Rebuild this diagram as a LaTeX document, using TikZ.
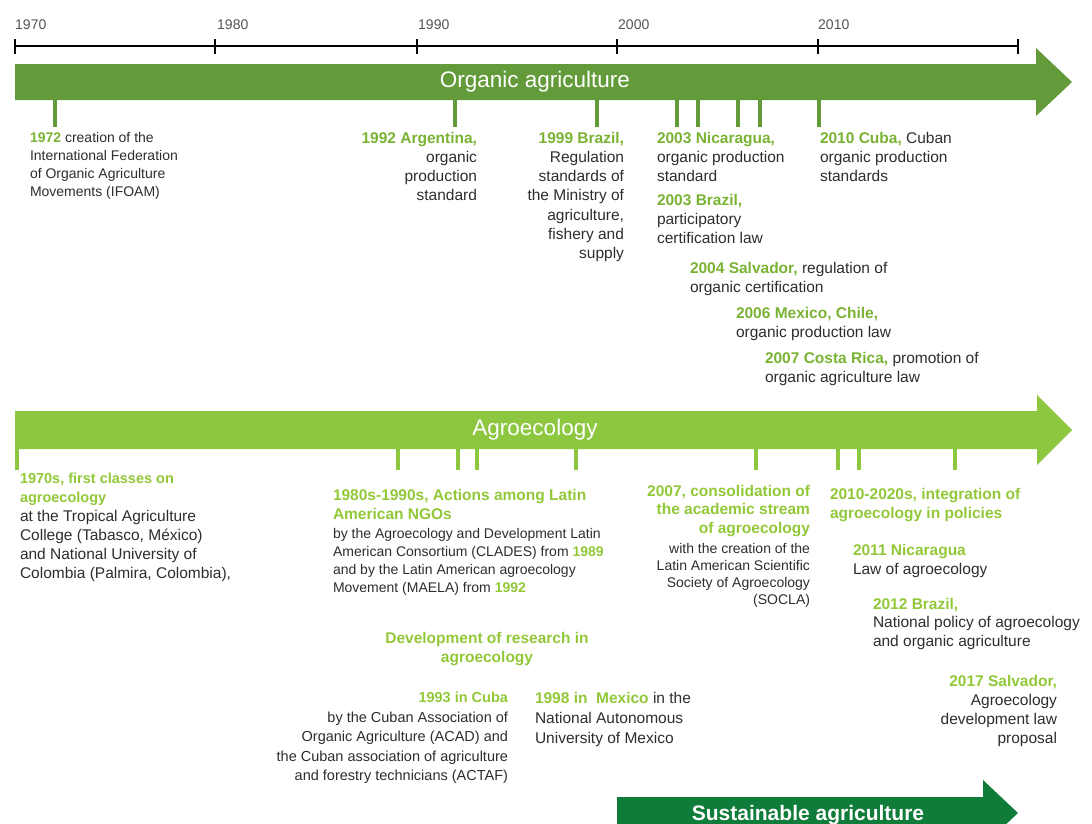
\documentclass[tikz,border=0pt]{standalone}
\usepackage{fontspec}
\setmainfont{Liberation Sans}
\definecolor{orgarrow}{RGB}{99,155,58}
\definecolor{agroarrow}{RGB}{141,198,63}
\definecolor{susarrow}{RGB}{16,124,58}
\definecolor{otxt}{RGB}{122,178,52}
\definecolor{atxt}{RGB}{146,200,56}
\definecolor{dtxt}{RGB}{45,45,45}
\definecolor{axtxt}{RGB}{85,85,85}
\newcommand\og[1]{\textcolor{otxt}{\bfseries #1}}
\newcommand\ag[1]{\textcolor{atxt}{\bfseries #1}}
\begin{document}
\begin{tikzpicture}[x=1pt,y=-1pt,
  lbl/.style={inner sep=0pt, outer sep=0pt, text=dtxt, font=\fontsize{15.5}{19}\selectfont},
  lblL/.style={lbl, align=left, anchor=north west},
  lblR/.style={lbl, align=right, anchor=north east},
  small/.style={font=\fontsize{14}{18}\selectfont},
  tickO/.style={draw=orgarrow, line width=4pt},
  tickA/.style={draw=agroarrow, line width=4.5pt},
  bandtext/.style={text=white, font=\fontsize{22.5}{26}\selectfont, inner sep=0pt},
  yearlbl/.style={text=axtxt, font=\fontsize{14}{16}\selectfont, anchor=west, inner sep=0pt},
  axisline/.style={line width=1.4pt, draw=black}
]
\useasboundingbox (0,0) rectangle (1092,823);
\clip (0,0) rectangle (1092,823);

% time axis
\draw[axisline] (15,46) -- (1018,46);
\foreach \x in {15,215,417,617,818,1018} \draw[axisline] (\x,39) -- (\x,54);
\node[yearlbl] (y1970) at (15,25) {1970};
\node[yearlbl] (y1980) at (217,25) {1980};
\node[yearlbl] (y1990) at (418,25) {1990};
\node[yearlbl] (y2000) at (618,25) {2000};
\node[yearlbl] (y2010) at (818,25) {2010};

% organic agriculture band
\fill[orgarrow] (15,64) -- (1036,64) -- (1036,48) -- (1072,82) -- (1036,116) -- (1036,100) -- (15,100) -- cycle;
\node[bandtext] (orgtitle) at (535,82) {Organic agriculture};
\foreach \x in {55,455,597,677,698,738,760,819} \draw[tickO] (\x,99) -- (\x,127);

% organic labels
\node[lblL, font=\fontsize{14}{18}\selectfont] (o1972) at (30,132) {\og{1972} creation of the\\International Federation\\of Organic Agriculture\\Movements (IFOAM)};
\node[lblR] (o1992) at (477,132) {\og{1992 Argentina,}\\organic\\production\\standard};
\node[lblR, font=\fontsize{15.5}{19.2}\selectfont] (o1999) at (624,132) {\og{1999 Brazil,}\\Regulation\\standards of\\the Ministry of\\agriculture,\\fishery and\\supply};
\node[lblL] (o2003n) at (657,132) {\og{2003 Nicaragua,}\\organic production\\standard};
\node[lblL] (o2003b) at (657,194) {\og{2003 Brazil,}\\participatory\\certification law};
\node[lblL] (o2004) at (690,262) {\og{2004 Salvador,} regulation of\\organic certification};
\node[lblL] (o2006) at (736,307) {\og{2006 Mexico, Chile,}\\organic production law};
\node[lblL] (o2007) at (765,352) {\og{2007 Costa Rica,} promotion of\\organic agriculture law};
\node[lblL] (o2010) at (820,132) {\og{2010 Cuba,} Cuban\\organic production\\standards};

% agroecology band
\fill[agroarrow] (15,411) -- (1037,411) -- (1037,395) -- (1072,430) -- (1037,465) -- (1037,449) -- (15,449) -- cycle;
\node[bandtext] (agrotitle) at (535,430) {Agroecology};
\foreach \x in {17,398,458,477,576,756,838,859,955} \draw[tickA] (\x,448) -- (\x,470);

% agroecology labels
\node[lblL] (a1970) at (20,473) {{\fontsize{14.5}{19}\selectfont\ag{1970s, first classes on}}\\{\fontsize{14.5}{19}\selectfont\ag{agroecology}}\\at the Tropical Agriculture\\College (Tabasco, México)\\and National University of\\Colombia (Palmira, Colombia),};
\node[lblL] (a1980) at (333,489) {\ag{1980s-1990s, Actions among Latin}\\\ag{American NGOs}};
\node[lblL, small] (a1980d) at (333,528) {by the Agroecology and Development Latin\\American Consortium (CLADES) from \ag{1989}\\and by the Latin American agroecology\\Movement (MAELA) from \ag{1992}};
\node[lblR, font=\fontsize{15.5}{18.5}\selectfont] (a2007) at (810,485) {\ag{2007, consolidation of}\\\ag{the academic stream}\\\ag{of agroecology}};
\node[lblR, font=\fontsize{14}{17}\selectfont] (a2007d) at (810,543) {with the creation of the\\Latin American Scientific\\Society of Agroecology\\(SOCLA)};
\node[lblL] (a2010) at (830,488) {\ag{2010-2020s, integration of}\\\ag{agroecology in policies}};
\node[lblL] (a2011) at (853,544) {\ag{2011 Nicaragua}\\Law of agroecology};
\node[lblL, font=\fontsize{15.5}{18.5}\selectfont] (a2012) at (873,598) {\ag{2012 Brazil,}\\National policy of agroecology\\and organic agriculture};
\node[lblR] (a2017) at (1057,675) {\ag{2017 Salvador,}\\Agroecology\\development law\\proposal};
\node[lbl, align=center, anchor=north] (adev) at (487,632) {\ag{Development of research in}\\\ag{agroecology}};
\node[lblR, font=\fontsize{14.5}{19.5}\selectfont] (a1993) at (508,692) {\ag{1993 in Cuba}\\by the Cuban Association of\\Organic Agriculture (ACAD) and\\the Cuban association of agriculture\\and forestry technicians (ACTAF)};
\node[lblL, font=\fontsize{15.5}{20}\selectfont] (a1998) at (535,692) {\ag{1998 in\ \ Mexico} in the\\National Autonomous\\University of Mexico};

% sustainable agriculture band
\fill[susarrow] (617,797) -- (983,797) -- (983,780) -- (1018,813) -- (983,846) -- (983,829) -- (617,829) -- cycle;
\node[bandtext, font=\bfseries\fontsize{21}{25}\selectfont] (sustitle) at (808,815) {Sustainable agriculture};
\end{tikzpicture}
\end{document}
